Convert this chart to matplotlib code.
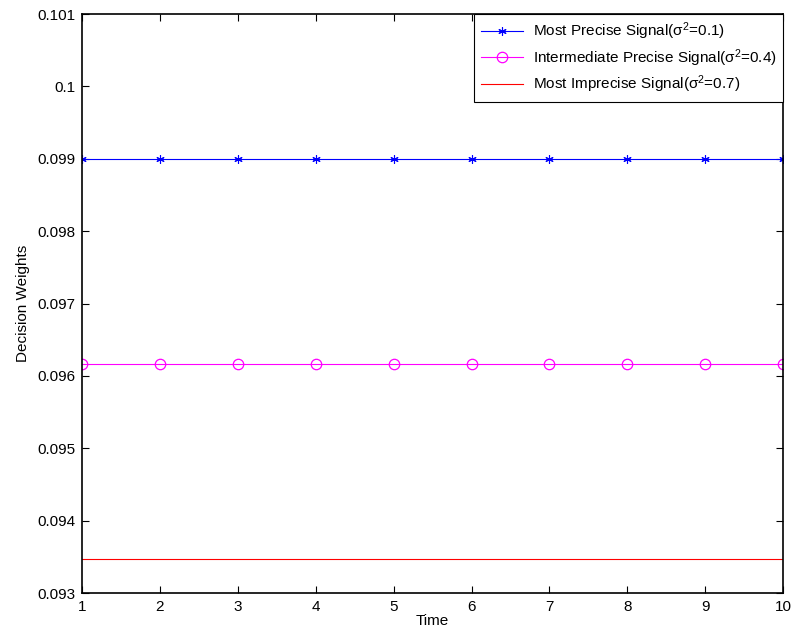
import numpy as np
import matplotlib
matplotlib.use("Agg")
import matplotlib.pyplot as plt

plt.rcParams["font.family"] = ["Liberation Sans", "DejaVu Sans"]
plt.rcParams["mathtext.fontset"] = "custom"
plt.rcParams["mathtext.rm"] = "Liberation Sans"
plt.rcParams["mathtext.it"] = "Liberation Sans:italic"

time = [1, 2, 3, 4, 5, 6, 7, 8, 9, 10]
precise = [0.0990] * 10
intermediate = [0.09616] * 10
imprecise = [0.09347] * 10

fig = plt.figure(figsize=(7.94, 6.37), dpi=100)
ax = fig.add_axes([0.1033, 0.069, 0.883, 0.909])

ax.plot(time, precise, color="blue", linewidth=0.8, marker=(6, 2, 0),
        markersize=6, markeredgewidth=0.8,
        label=r"Most Precise Signal($\mathregular{\sigma^2}$=0.1)")
ax.plot(time, intermediate, color="magenta", linewidth=0.8, marker="o",
        markersize=7.5, markerfacecolor="none", markeredgewidth=0.9,
        label=r"Intermediate Precise Signal($\mathregular{\sigma^2}$=0.4)")
ax.plot(time, imprecise, color="red", linewidth=0.8,
        label=r"Most Imprecise Signal($\mathregular{\sigma^2}$=0.7)")

ax.set_xlim(1, 10)
ax.set_ylim(0.093, 0.101)
ax.set_xticks(range(1, 11))
ax.set_yticks([0.093, 0.094, 0.095, 0.096, 0.097, 0.098, 0.099, 0.1, 0.101])
ax.set_yticklabels(["0.093", "0.094", "0.095", "0.096", "0.097", "0.098", "0.099", "0.1", "0.101"])
for s in ax.spines.values():
    s.set_linewidth(1.2)
ax.tick_params(direction="in", top=True, right=True, labelsize=11, length=5,
               width=0.8, pad=5)
ax.set_xlabel("Time", fontsize=11, labelpad=0)
ax.set_ylabel("Decision Weights", fontsize=11, labelpad=5)

leg = ax.legend(loc="upper right", fontsize=11, fancybox=False, framealpha=1,
                edgecolor="black", borderaxespad=0, handlelength=2.8,
                handletextpad=0.6, borderpad=0.45, labelspacing=0.3)
leg.get_frame().set_linewidth(0.8)

fig.savefig("out.png", dpi=100)
